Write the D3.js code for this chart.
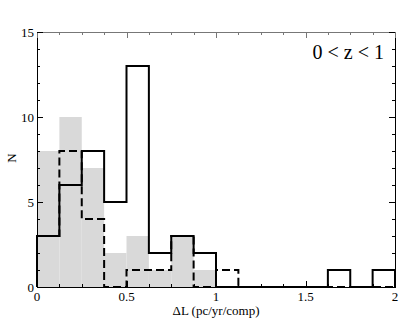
<!DOCTYPE html>
<html><head><meta charset="utf-8">
<script src="https://cdn.jsdelivr.net/npm/d3@7"></script>
<style>body{margin:0;background:#fff}svg{display:block}</style>
</head><body>
<svg id="c" width="415" height="321"></svg>
<script>
// Data
const binEdges = [0,0.125,0.25,0.375,0.5,0.625,0.75,0.875,1,1.125,1.25,1.375,1.5,1.625,1.75,1.875,2];
const solidCounts  = [3,6,8,5,13,2,3,2,0,0,0,0,0,1,0,1];
const dashedCounts = [3,8,4,0,1,1,3,0,1,0,0,0,0,0,0,0];
const grayCounts   = [8,10,7,2,3,1,3,1];
const xTicks = [0,0.5,1,1.5,2];
const xTickLabels = ["0","0.5","1","1.5","2"];
const yTicks = [0,5,10,15];
const yTickLabels = ["0","5","10","15"];
const xMinor = d3.range(0,2.0001,0.125);
const yMinor = d3.range(0,15.0001,1);
const panelLabel = "0 < z < 1";
const xLabel = "\u0394L (pc/yr/comp)";
const yLabel = "N";

const svg = d3.select("#c");
const L=37, R=395, T=32, B=287;
const x = d3.scaleLinear().domain([0,2]).range([L,R]);
const y = d3.scaleLinear().domain([0,15]).range([B,T]);
const font = "'Liberation Serif','Times New Roman',serif";

function stepPts(counts){
  const pts=[[binEdges[0],0]];
  counts.forEach((c,i)=>{pts.push([binEdges[i],c]);pts.push([binEdges[i+1],c]);});
  pts.push([binEdges[counts.length],0]);
  return pts;
}
const line = d3.line().x(d=>x(d[0])).y(d=>y(d[1]));

// gray filled histogram
svg.append("g").selectAll("rect").data(grayCounts).join("rect")
  .attr("x",(d,i)=>x(binEdges[i])).attr("width",(d,i)=>x(binEdges[i+1])-x(binEdges[i]))
  .attr("y",d=>y(d)).attr("height",d=>y(0)-y(d)).attr("fill","#d9d9d9");

svg.append("path").attr("d",line(stepPts(dashedCounts))).attr("fill","none")
  .attr("stroke","#000").attr("stroke-width",2).attr("stroke-dasharray","8,4");
svg.append("path").attr("d",line(stepPts(solidCounts))).attr("fill","none")
  .attr("stroke","#000").attr("stroke-width",2);

// frame
const g = svg.append("g");
g.append("line").attr("x1",L).attr("x2",R).attr("y1",T+0.5).attr("y2",T+0.5).attr("stroke","#777");
g.append("line").attr("x1",L).attr("x2",R).attr("y1",B+0.5).attr("y2",B+0.5).attr("stroke","#000");
g.append("line").attr("x1",L+0.5).attr("x2",L+0.5).attr("y1",T).attr("y2",B+1).attr("stroke","#000");
g.append("line").attr("x1",R+0.5).attr("x2",R+0.5).attr("y1",T).attr("y2",B+1).attr("stroke","#000");

// ticks (inward, all four sides)
function xt(v,len){
  const px=Math.round(x(v))+0.5;
  g.append("line").attr("x1",px).attr("x2",px).attr("y1",B).attr("y2",B-len).attr("stroke","#000");
  g.append("line").attr("x1",px).attr("x2",px).attr("y1",T).attr("y2",T+len).attr("stroke","#777");
}
function yt(v,len){
  const py=Math.round(y(v))+0.5;
  g.append("line").attr("x1",L).attr("x2",L+len).attr("y1",py).attr("y2",py).attr("stroke","#000");
  g.append("line").attr("x1",R).attr("x2",R-len).attr("y1",py).attr("y2",py).attr("stroke","#000");
}
xMinor.forEach(v=>xt(v,3)); xTicks.forEach(v=>xt(v,6));
yMinor.forEach(v=>yt(v,3)); yTicks.forEach(v=>yt(v,6));

// tick labels
svg.append("g").selectAll("text").data(xTicks).join("text")
  .attr("x",d=>x(d)).attr("y",301).attr("text-anchor","middle")
  .attr("font-family",font).attr("font-size",13).text((d,i)=>xTickLabels[i]);
svg.append("g").selectAll("text").data(yTicks).join("text")
  .attr("x",L-3).attr("y",d=>y(d)+4.5).attr("text-anchor","end")
  .attr("font-family",font).attr("font-size",13).text((d,i)=>yTickLabels[i]);

svg.append("text").attr("x",(L+R)/2).attr("y",314.5).attr("text-anchor","middle")
  .attr("font-family",font).attr("font-size",13).text(xLabel);
svg.append("text").attr("transform","translate(16,158) rotate(-90)").attr("text-anchor","middle")
  .attr("font-family",font).attr("font-size",13).text(yLabel);
svg.append("text").attr("x",384).attr("y",59).attr("text-anchor","end")
  .attr("font-family",font).attr("font-size",20).text(panelLabel);
</script>
</body></html>
